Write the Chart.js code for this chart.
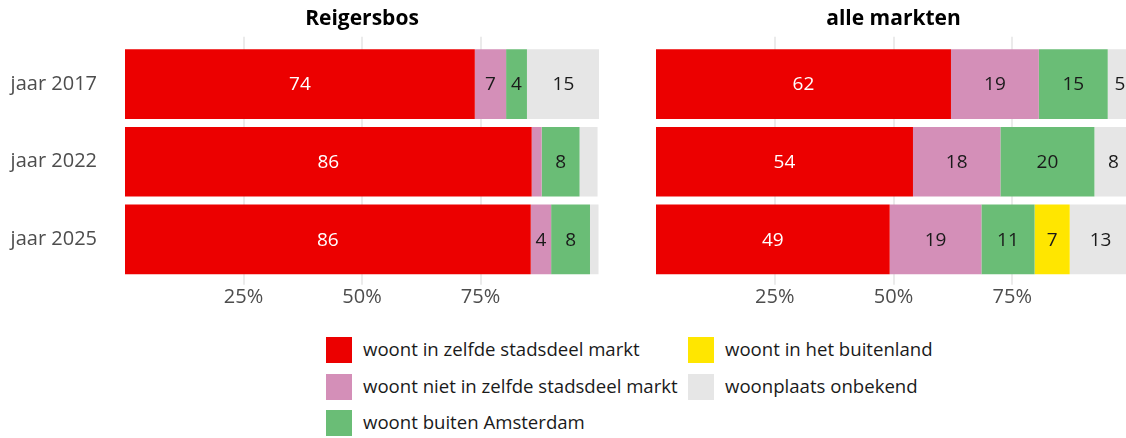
<!DOCTYPE html>
<html>
<head>
<meta charset="utf-8">
<script src="https://cdn.jsdelivr.net/npm/chart.js@4/dist/chart.umd.min.js"></script>
<style>
  html, body { margin: 0; padding: 0; background: #fff; }
  #wrap { position: relative; width: 1126px; height: 438px; overflow: hidden; background: #fff; font-family: "Open Sans", sans-serif; }
  canvas { position: absolute; top: 0; }
  #left { left: 0; }
  #right { left: 640px; }
  .legend { position: absolute; font-size: 18.6px; color: #1a1a1a; }
  .legend .item { position: absolute; white-space: nowrap; height: 26px; line-height: 26px; }
  .legend .box { position: absolute; left: 0; top: 0; width: 26px; height: 26px; }
  .legend .txt { position: absolute; left: 37px; top: -1px; }
</style>
</head>
<body>
<div id="wrap">
  <canvas id="left" width="605" height="320"></canvas>
  <canvas id="right" width="491" height="320"></canvas>
  <div class="legend" id="legend"></div>
</div>
<script>
// categories and series (percentages)
const years = ['jaar 2017', 'jaar 2022', 'jaar 2025'];
const seriesNames = [
    'woont in zelfde stadsdeel markt',
    'woont niet in zelfde stadsdeel markt',
    'woont buiten Amsterdam',
    'woont in het buitenland',
    'woonplaats onbekend'
];
const seriesColors = ['#ec0000', '#d48fb8', '#6abd76', '#ffe600', '#e6e6e6'];

// Reigersbos
const reigersbosSame    = [73.8, 85.8, 85.6];
const reigersbosOther   = [6.6, 2.1, 4.3];
const reigersbosOutside = [4.4, 8.0, 8.2];
const reigersbosAbroad  = [0, 0, 0];
const reigersbosUnknown = [15.4, 3.8, 1.8];

// alle markten
const alleSame    = [62.1, 54.1, 49.2];
const alleOther   = [18.5, 18.4, 19.3];
const alleOutside = [14.5, 19.8, 11.2];
const alleAbroad  = [0, 0, 7.4];
const alleUnknown = [5.1, 8.0, 13.0];

const xTicks = [25, 50, 75];
const labelMin = 4; // smaller segments get no label

const FONT = '"Open Sans", sans-serif';

// vertical gridlines that stick out a little above and below the bars
const gridPlugin = {
    id: 'gridLines',
    beforeDatasetsDraw(chart) {
        const ctx = chart.ctx;
        const area = chart.chartArea;
        const x = chart.scales.x;
        ctx.save();
        ctx.strokeStyle = '#ebebeb';
        ctx.lineWidth = 2;
        xTicks.forEach(v => {
            const px = Math.round(x.getPixelForValue(v));
            ctx.beginPath();
            ctx.moveTo(px, area.top - 8.5);
            ctx.lineTo(px, area.bottom + 6.5);
            ctx.stroke();
        });
        ctx.restore();
    }
};

// value labels in the middle of each segment
const valuePlugin = {
    id: 'valueLabels',
    afterDatasetsDraw(chart) {
        const ctx = chart.ctx;
        ctx.save();
        ctx.font = '19px ' + FONT;
        ctx.textAlign = 'center';
        ctx.textBaseline = 'middle';
        chart.data.datasets.forEach((ds, i) => {
            const meta = chart.getDatasetMeta(i);
            meta.data.forEach((bar, j) => {
                const v = ds.data[j];
                if (v < labelMin) return;
                const cx = (bar.x + bar.base) / 2;
                ctx.fillStyle = i === 0 ? '#ffffff' : '#1a1a1a';
                ctx.fillText(String(Math.round(v)), cx, bar.y + 1);
            });
        });
        ctx.restore();
    }
};

function makeDatasets(values) {
    return values.map((data, i) => ({
        label: seriesNames[i],
        data: data,
        backgroundColor: seriesColors[i],
        borderWidth: 0,
        barPercentage: 0.897,
        categoryPercentage: 1
    }));
}

function makeChart(id, title, values, showYLabels) {
    const ctx = document.getElementById(id).getContext('2d');
    return new Chart(ctx, {
        type: 'bar',
        data: {
            labels: years,
            datasets: makeDatasets(values)
        },
        options: {
            indexAxis: 'y',
            responsive: false,
            animation: false,
            layout: {
                padding: { left: showYLabels ? 0 : 16, right: showYLabels ? 6 : 0, top: 0, bottom: 0 }
            },
            plugins: {
                legend: { display: false },
                tooltip: { enabled: false },
                title: {
                    display: true,
                    text: title,
                    fullSize: false,
                    color: '#000',
                    font: { family: FONT, size: 21, weight: 'bold' },
                    padding: { top: 6, bottom: 14 }
                }
            },
            scales: {
                x: {
                    stacked: true,
                    min: 0,
                    max: 100,
                    grid: { display: false, drawTicks: false },
                    border: { display: false },
                    afterBuildTicks(scale) {
                        scale.ticks = xTicks.map(v => ({ value: v }));
                    },
                    afterFit(scale) { scale.height = 320 - 278.3; },
                    ticks: {
                        color: '#4d4d4d',
                        padding: 7,
                        font: { family: FONT, size: 20 },
                        callback: v => v + '%'
                    }
                },
                y: {
                    stacked: true,
                    display: showYLabels,
                    grid: { display: false, drawTicks: false },
                    border: { display: false },
                    afterFit(scale) { scale.width = showYLabels ? 125 : 0; },
                    ticks: {
                        color: '#4d4d4d',
                        padding: 28,
                        font: { family: FONT, size: 20 }
                    }
                }
            }
        },
        plugins: [gridPlugin, valuePlugin]
    });
}

makeChart('left', 'Reigersbos',
    [reigersbosSame, reigersbosOther, reigersbosOutside, reigersbosAbroad, reigersbosUnknown], true);
makeChart('right', 'alle markten',
    [alleSame, alleOther, alleOutside, alleAbroad, alleUnknown], false);

// legend: two columns, filled column by column
const legend = document.getElementById('legend');
const legendCols = [326, 688];
const legendRowTop = 337;
const legendRowStep = 36.7;
seriesNames.forEach((name, i) => {
    const col = i < 3 ? 0 : 1;
    const row = i < 3 ? i : i - 3;
    const item = document.createElement('div');
    item.className = 'item';
    item.style.left = legendCols[col] + 'px';
    item.style.top = (legendRowTop + row * legendRowStep) + 'px';
    const box = document.createElement('div');
    box.className = 'box';
    box.style.background = seriesColors[i];
    const txt = document.createElement('div');
    txt.className = 'txt';
    txt.textContent = name;
    item.appendChild(box);
    item.appendChild(txt);
    legend.appendChild(item);
});
</script>
</body>
</html>
